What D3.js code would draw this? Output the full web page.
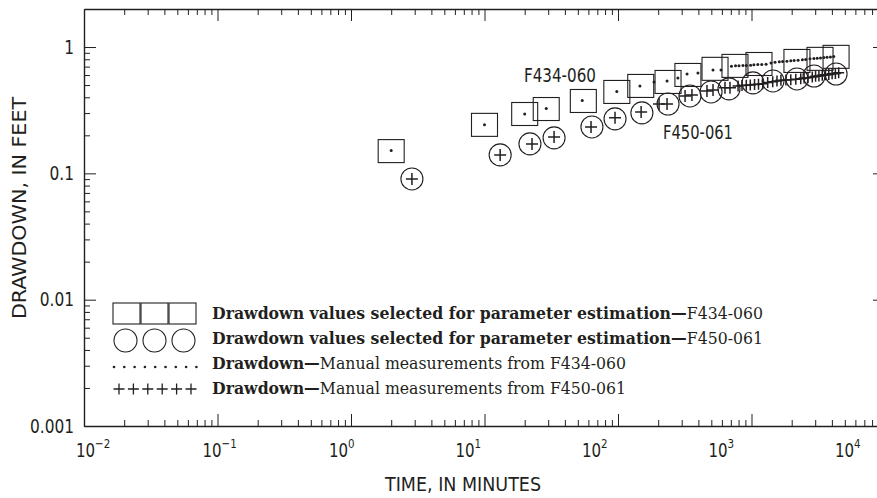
<!DOCTYPE html>
<html><head><meta charset="utf-8">
<script src="https://cdn.jsdelivr.net/npm/d3@7"></script>
<style>
body{margin:0;background:#fff}
svg{display:block}
</style></head><body>
<svg id="chart" width="877" height="498"></svg>
<script>
// ---------- DATA ----------
const xMajorTicks = [1e-2, 1e-1, 1e0, 1e1, 1e2, 1e3, 1e4];
const xTickExponents = ["\u22122", "\u22121", "0", "1", "2", "3", "4"];
const yMajorTicks = [0.001, 0.01, 0.1, 1];
const yTickLabels = ["0.001", "0.01", "0.1", "1"];

// Drawdown values selected for parameter estimation — F434-060 (squares)
const selTimeF434 = [2, 10, 20, 29, 55, 98, 148, 237, 334, 533, 752, 1138, 2190, 3260, 4300];
const selDrawF434 = [0.150, 0.242, 0.295, 0.323, 0.374, 0.441, 0.492, 0.529, 0.601, 0.672, 0.709, 0.734, 0.776, 0.806, 0.836];

// Drawdown values selected for parameter estimation — F450-061 (circles)
const selTimeF450 = [2.86, 13.1, 21.9, 33.2, 63.8, 95, 151, 237, 346, 498, 678, 1026, 1449, 2190, 2940, 4300];
const selDrawF450 = [0.0903, 0.140, 0.171, 0.191, 0.233, 0.270, 0.301, 0.354, 0.410, 0.441, 0.466, 0.520, 0.539, 0.559, 0.590, 0.612];

// Manual measurements F434-060 (dots)
const manTimeF434 = [2, 10, 20, 29, 54, 98, 146, 186, 233, 281, 329, 397, 515, 591,
  708, 759, 806, 863, 914, 984, 1042, 1115, 1194, 1286, 1400, 1500, 1615, 1710, 1842, 1969,
  2085, 2234, 2405, 2547, 2742, 2932, 3105, 3289, 3483, 3681, 3900, 4130];
const manDrawF434 = [0.152, 0.242, 0.295, 0.326, 0.378, 0.445, 0.492, 0.529, 0.539, 0.569, 0.612, 0.624, 0.659, 0.659,
  0.706, 0.710, 0.710, 0.715, 0.715, 0.719, 0.723, 0.727, 0.727, 0.732, 0.746, 0.759, 0.764, 0.768, 0.773, 0.778,
  0.782, 0.786, 0.792, 0.796, 0.807, 0.811, 0.815, 0.820, 0.826, 0.830, 0.835, 0.841];

// Manual measurements F450-061 (pluses)
const manTimeF450 = [2.86, 13.1, 22.7, 33.2, 62.8, 95, 149, 203, 233, 318, 358, 464, 515, 633, 690,
  793, 849, 914, 979, 1054, 1128, 1215, 1322, 1442, 1552, 1661, 1811, 1969, 2147, 2339,
  2477, 2649, 2853, 3020, 3199, 3388, 3581, 3793, 4018, 4249, 4498];
const manDrawF450 = [0.0903, 0.140, 0.171, 0.194, 0.233, 0.275, 0.306, 0.354, 0.354, 0.410, 0.418, 0.449, 0.457, 0.475, 0.475,
  0.492, 0.495, 0.499, 0.501, 0.504, 0.507, 0.513, 0.523, 0.532, 0.538, 0.545, 0.548, 0.552, 0.555, 0.562,
  0.569, 0.571, 0.578, 0.586, 0.589, 0.597, 0.604, 0.607, 0.615, 0.618, 0.626];

const wellLabels = ["F434-060", "F450-061"];
const legendBold = ["Drawdown values selected for parameter estimation\u2014",
                    "Drawdown values selected for parameter estimation\u2014",
                    "Drawdown\u2014", "Drawdown\u2014"];
const legendPlain = ["F434-060", "F450-061", "Manual measurements from F434-060", "Manual measurements from F450-061"];
const xTitle = "TIME, IN MINUTES";
const yTitle = "DRAWDOWN, IN FEET";

// ---------- LAYOUT ----------
const ink = "#231f20";
const condFont = "'Liberation Sans Narrow','DejaVu Sans Condensed','Roboto',sans-serif";
const serifFont = "'DejaVu Serif','Liberation Serif',serif";
const L = 84, R = 885, T = 9, B = 426;

const svg = d3.select("#chart");
const x = d3.scaleLog().domain([1e-2, 1e4]).range([L, R]);
const y = d3.scaleLog().domain([1e-3, 2]).range([B, T]);
// tick labels in the original are set on a slightly narrower spacing than the ticks
const xLab = d3.scaleLog().domain([1e-2, 1e4]).range([76, 835]);

const isMajor = d => Math.abs(Math.log10(d) - Math.round(Math.log10(d))) < 1e-9;
const xTicks = [];
for (let k = -2; k <= 4; k++) for (let j = 1; j <= 9; j++) { const v = j * Math.pow(10, k); if (v <= 1e4 * 1.0001) xTicks.push(v); }
const yTicks = [];
for (let k = -3; k <= 0; k++) for (let j = 1; j <= 9; j++) { const v = j * Math.pow(10, k); if (v <= 2.0001) yTicks.push(v); }

function styleAxis(g, sign, horiz) {
  g.select(".domain").attr("stroke", ink).attr("stroke-width", 1.4);
  g.selectAll(".tick line").attr("stroke", ink).attr("stroke-width", 1)
    .each(function(d) {
      const len = isMajor(d) ? 12 : 6;
      if (horiz) d3.select(this).attr("y2", sign * len);
      else d3.select(this).attr("x2", sign * len);
    });
  g.selectAll(".tick text").remove();
}

svg.append("g").attr("transform", `translate(0,${B})`)
  .call(d3.axisTop(x).tickValues(xTicks).tickSizeOuter(0).tickFormat(""))
  .call(g => styleAxis(g, -1, true));
svg.append("g").attr("transform", `translate(0,${T})`)
  .call(d3.axisBottom(x).tickValues(xTicks).tickSizeOuter(0).tickFormat(""))
  .call(g => styleAxis(g, 1, true));
svg.append("g").attr("transform", `translate(${L},0)`)
  .call(d3.axisRight(y).tickValues(yTicks).tickSizeOuter(0).tickFormat(""))
  .call(g => styleAxis(g, 1, false));
svg.append("g").attr("transform", `translate(${R},0)`)
  .call(d3.axisLeft(y).tickValues(yTicks).tickSizeOuter(0).tickFormat(""))
  .call(g => styleAxis(g, -1, false));

// condensed text helper: squeeze glyphs horizontally to imitate the narrow face
function condText(parent, px, py, str, size, sx, anchor) {
  return parent.append("text")
    .attr("transform", `translate(${px},${py}) scale(${sx},1)`)
    .attr("text-anchor", anchor || "start")
    .attr("font-family", condFont).attr("font-size", size).attr("fill", ink)
    .text(str);
}

// x tick labels
const xl = svg.append("g");
xMajorTicks.forEach((v, i) => {
  const t = xl.append("text")
    .attr("transform", `translate(${xLab(v)},457) scale(0.88,1)`)
    .attr("font-family", condFont).attr("font-size", 19).attr("fill", ink);
  t.append("tspan").text("10");
  t.append("tspan").attr("dy", -9).attr("font-size", 13).text(xTickExponents[i]);
});
// y tick labels
const yl = svg.append("g");
yMajorTicks.forEach((v, i) => {
  condText(yl, 74, y(v) + 6.5, yTickLabels[i], 19, 0.9, "end");
});

// axis titles
svg.append("text").attr("x", 463).attr("y", 491).attr("text-anchor", "middle")
  .attr("font-family", condFont).attr("font-size", 20).attr("fill", ink)
  .attr("textLength", 156).attr("lengthAdjust", "spacingAndGlyphs").text(xTitle);
svg.append("text").attr("transform", "translate(26,208) rotate(-90)").attr("text-anchor", "middle")
  .attr("font-family", condFont).attr("font-size", 20).attr("fill", ink)
  .attr("textLength", 222).attr("lengthAdjust", "spacingAndGlyphs").text(yTitle);

// ---------- MARKS ----------
const plot = svg.append("g");
const sqW = 26, sqH = 23, cr = 11;
plot.selectAll("rect.sel").data(selTimeF434.map((t, i) => [t, selDrawF434[i]])).join("rect")
  .attr("class", "sel")
  .attr("x", d => x(d[0]) - sqW / 2).attr("y", d => y(d[1]) - sqH / 2)
  .attr("width", sqW).attr("height", sqH)
  .attr("fill", "none").attr("stroke", ink).attr("stroke-width", 1.1);
plot.selectAll("circle.sel").data(selTimeF450.map((t, i) => [t, selDrawF450[i]])).join("circle")
  .attr("class", "sel")
  .attr("cx", d => x(d[0])).attr("cy", d => y(d[1])).attr("r", cr)
  .attr("fill", "none").attr("stroke", ink).attr("stroke-width", 1.1);
plot.selectAll("circle.dot").data(manTimeF434.map((t, i) => [t, manDrawF434[i]])).join("circle")
  .attr("class", "dot")
  .attr("cx", d => x(d[0])).attr("cy", d => y(d[1])).attr("r", 1.5).attr("fill", ink);
const plusPath = s => `M${-s},0H${s}M0,${-s}V${s}`;
plot.selectAll("path.plus").data(manTimeF450.map((t, i) => [t, manDrawF450[i]])).join("path")
  .attr("class", "plus")
  .attr("transform", d => `translate(${x(d[0])},${y(d[1])})`)
  .attr("d", (d, i) => plusPath(i < 15 ? 6 : 5.5))
  .attr("stroke", ink).attr("stroke-width", 1.5).attr("fill", "none");

// well labels
svg.append("text").attr("x", 524).attr("y", 82).attr("font-family", condFont)
  .attr("font-size", 20).attr("fill", ink)
  .attr("textLength", 72).attr("lengthAdjust", "spacingAndGlyphs").text(wellLabels[0]);
svg.append("text").attr("x", 663).attr("y", 139).attr("font-family", condFont)
  .attr("font-size", 20).attr("fill", ink)
  .attr("textLength", 70).attr("lengthAdjust", "spacingAndGlyphs").text(wellLabels[1]);

// ---------- LEGEND ----------
const lg = svg.append("g");
const rowY = [319, 344, 369, 394];
[0, 1, 2].forEach(k => lg.append("rect").attr("x", 113 + k * 28).attr("y", 303)
  .attr("width", 27).attr("height", 21).attr("fill", "none").attr("stroke", ink).attr("stroke-width", 1.1));
[0, 1, 2].forEach(k => lg.append("circle").attr("cx", 125.5 + k * 29).attr("cy", 340.5).attr("r", 11.5)
  .attr("fill", "none").attr("stroke", ink).attr("stroke-width", 1.1));
d3.range(9).forEach(k => lg.append("circle").attr("cx", 114 + k * 10.3).attr("cy", 367).attr("r", 1.3).attr("fill", ink));
d3.range(6).forEach(k => lg.append("path").attr("transform", `translate(${119 + k * 14.4},389)`)
  .attr("d", plusPath(5.5)).attr("stroke", ink).attr("stroke-width", 1.3));

const texts = rowY.map((yy, i) => {
  const t = lg.append("text").attr("x", 212).attr("y", yy).attr("font-family", serifFont)
    .attr("font-size", 15).attr("fill", ink);
  t.append("tspan").attr("font-weight", "bold").text(legendBold[i]);
  t.append("tspan").text(legendPlain[i]);
  return t;
});
// fit font size so the first row spans the same width as in the original
const w0 = texts[0].node().getComputedTextLength();
const fs = 15 * 551 / w0;
texts.forEach(t => t.attr("font-size", fs.toFixed(2)));
</script>
</body></html>
